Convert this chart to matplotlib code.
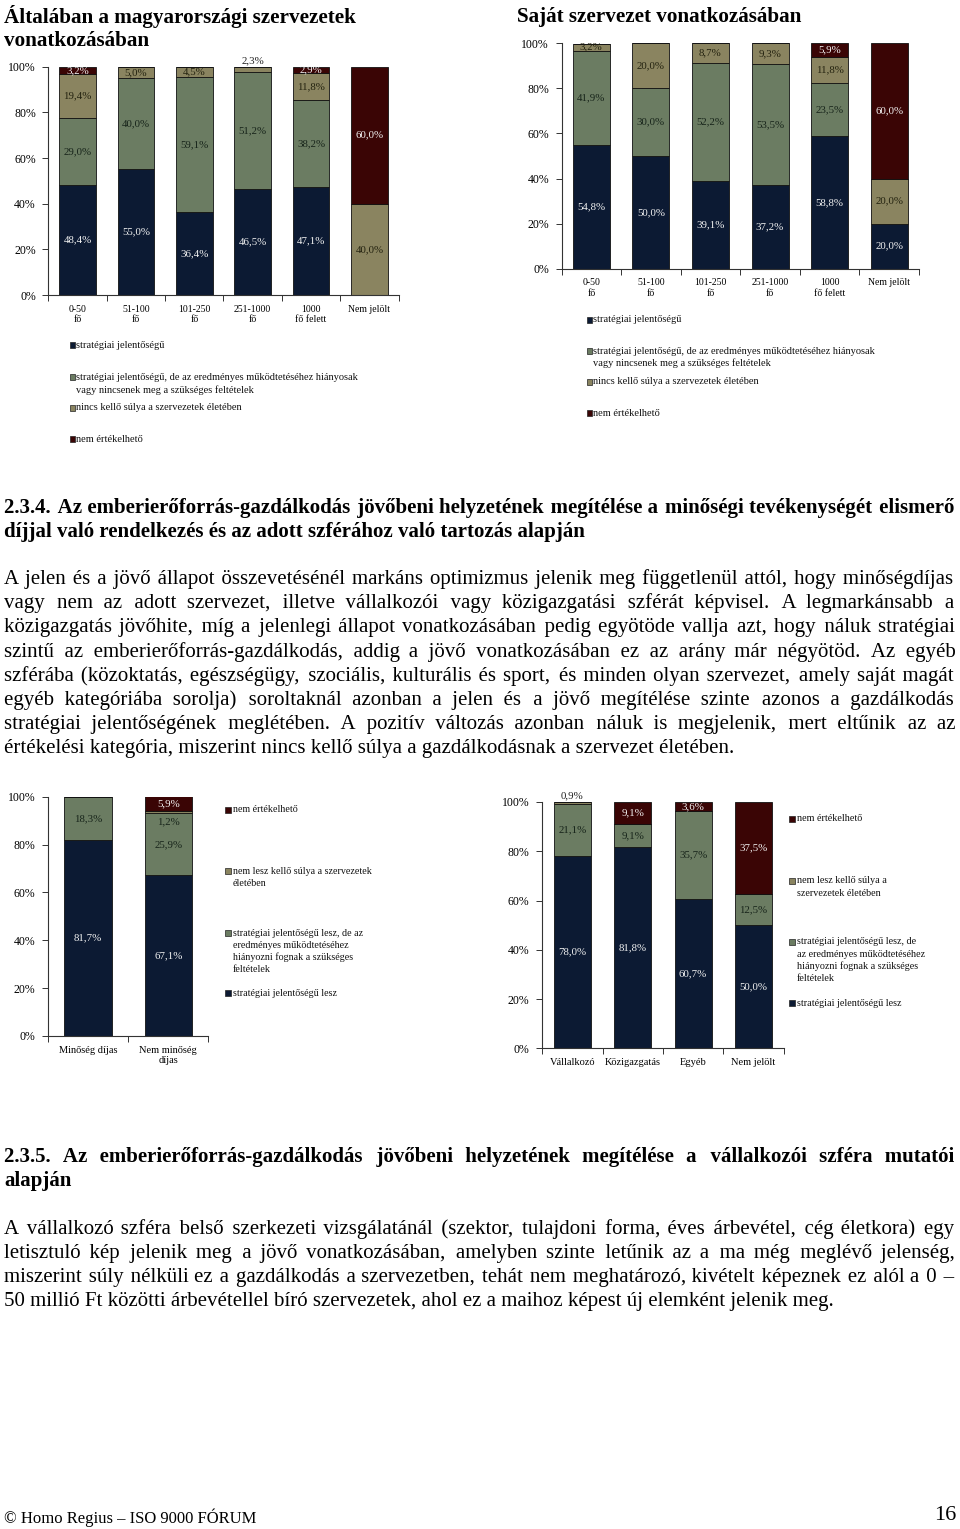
import numpy as np
import matplotlib
matplotlib.use("Agg")
import matplotlib.pyplot as plt
from matplotlib.patches import Rectangle

W, H = 960, 1529
plt.rcParams['font.family'] = ['Liberation Serif', 'DejaVu Serif']

# --- chart 1: Általában a magyarországi szervezetek vonatkozásában
cats_size = ['0-50\nfő', '51-100\nfő', '101-250\nfő', '251-1000\nfő', '1000\nfő felett', 'Nem jelölt']
c1_strat = [48.4, 55.0, 36.4, 46.5, 47.1, 0.0]
c1_hiany = [29.0, 40.0, 59.1, 51.2, 38.2, 0.0]
c1_nincs = [19.4, 5.0, 4.5, 2.3, 11.8, 40.0]
c1_nem = [3.2, 0.0, 0.0, 0.0, 2.9, 60.0]

# --- chart 2: Saját szervezet vonatkozásában
c2_strat = [54.8, 50.0, 39.1, 37.2, 58.8, 20.0]
c2_hiany = [41.9, 30.0, 52.2, 53.5, 23.5, 0.0]
c2_nincs = [3.2, 20.0, 8.7, 9.3, 11.8, 20.0]
c2_nem = [0.0, 0.0, 0.0, 0.0, 5.9, 60.0]

# --- chart 3: minőségdíj szerint
cats_dij = ['Minőség díjas', 'Nem minőség\ndíjas']
c3_lesz = [81.7, 67.1]
c3_hiany = [18.3, 25.9]
c3_nincs = [0.0, 1.2]
c3_nem = [0.0, 5.9]

# --- chart 4: szféra szerint
cats_szfera = ['Vállalkozó', 'Közigazgatás', 'Egyéb', 'Nem jelölt']
c4_lesz = [78.0, 81.8, 60.7, 50.0]
c4_hiany = [21.1, 9.1, 35.7, 12.5]
c4_nincs = [0.9, 0.0, 0.0, 0.0]
c4_nem = [0.0, 9.1, 3.6, 37.5]

leg_now = [["stratégiai jelentőségű"],
           ["stratégiai jelentőségű, de az eredményes működtetéséhez hiányosak",
            "vagy nincsenek meg a szükséges feltételek"],
           ["nincs kellő súlya a szervezetek életében"],
           ["nem értékelhető"]]
leg3 = [["nem értékelhető"],
        ["nem lesz kellő súlya a szervezetek", "életében"],
        ["stratégiai jelentőségű lesz, de az", "eredményes működtetéséhez",
         "hiányozni fognak a szükséges", "feltételek"],
        ["stratégiai jelentőségű lesz"]]
leg4 = [["nem értékelhető"],
        ["nem lesz kellő súlya a", "szervezetek életében"],
        ["stratégiai jelentőségű lesz, de", "az eredményes működtetéséhez",
         "hiányozni fognak a szükséges", "feltételek"],
        ["stratégiai jelentőségű lesz"]]

head1 = ["2.3.4. Az emberierőforrás-gazdálkodás jövőbeni helyzetének megítélése a minőségi tevékenységét elismerő",
         "díjjal való rendelkezés és az adott szférához való tartozás alapján"]
para1 = ["A jelen és a jövő állapot összevetésénél markáns optimizmus jelenik meg függetlenül attól, hogy minőségdíjas",
         "vagy nem az adott szervezet, illetve vállalkozói vagy közigazgatási szférát képvisel. A legmarkánsabb a",
         "közigazgatás jövőhite, míg a jelenlegi állapot vonatkozásában pedig egyötöde vallja azt, hogy náluk stratégiai",
         "szintű az emberierőforrás-gazdálkodás, addig a jövő vonatkozásában ez az arány már négyötöd. Az egyéb",
         "szférába (közoktatás, egészségügy, szociális, kulturális és sport, és minden olyan szervezet, amely saját magát",
         "egyéb kategóriába sorolja) soroltaknál azonban a jelen és a jövő megítélése szinte azonos a gazdálkodás",
         "stratégiai jelentőségének meglétében. A pozitív változás azonban náluk is megjelenik, mert eltűnik az az",
         "értékelési kategória, miszerint nincs kellő súlya a gazdálkodásnak a szervezet életében."]
head2 = ["2.3.5. Az emberierőforrás-gazdálkodás jövőbeni helyzetének megítélése a vállalkozói szféra mutatói",
         "alapján"]
para2 = ["A vállalkozó szféra belső szerkezeti vizsgálatánál (szektor, tulajdoni forma, éves árbevétel, cég életkora) egy",
         "letisztuló kép jelenik meg a jövő vonatkozásában, amelyben szinte letűnik az a ma még meglévő jelenség,",
         "miszerint súly nélküli ez a gazdálkodás a szervezetben, tehát nem meghatározó, kivételt képeznek ez alól a 0 –",
         "50 millió Ft közötti árbevétellel bíró szervezetek, ahol ez a maihoz képest új elemként jelenik meg."]

NAVY, GREEN, OLIVE, MAROON = '#0c1a33', '#6b7c62', '#8a8460', '#3a0505'
COLS = [NAVY, GREEN, OLIVE, MAROON]
TXT = ['#f2f2f2', '#17241a', '#23220f', '#f2f2f2']

fig = plt.figure(figsize=(W / 100, H / 100), dpi=100)
R = fig.canvas.get_renderer()


def px_axes(x0, x1, ytop, ybot):
    return fig.add_axes([x0 / W, 1 - ybot / H, (x1 - x0) / W, (ybot - ytop) / H])


def fmt(v):
    return f"{v:.1f}".replace('.', ',') + '%'


def stacked(ax, cats, series, width, tick_fs=8.5, cat_fs=7, lab_fs=7.8):
    n = len(cats)
    x = np.arange(n)
    bottom = np.zeros(n)
    for k, vals in enumerate(series):
        vals = np.asarray(vals, float)
        ax.bar(x, vals, width, bottom=bottom, color=COLS[k], edgecolor='#111111', linewidth=0.6, zorder=2)
        for i, v in enumerate(vals):
            if v <= 0:
                continue
            rest = sum(s[i] for s in series[k + 1:])
            if v < 2.5 and rest == 0:
                ax.text(x[i], bottom[i] + v + 0.8, fmt(v), ha='center', va='bottom', fontsize=lab_fs, color='#222222')
            elif v < 2.5:
                ax.text(x[i], bottom[i] - 1.5, fmt(v), ha='center', va='top', fontsize=lab_fs, color=TXT[k - 1])
            else:
                ax.text(x[i], bottom[i] + v / 2, fmt(v), ha='center', va='center', fontsize=lab_fs, color=TXT[k])
        bottom += vals
    ax.set_xlim(-0.5, n - 0.5)
    ax.set_ylim(0, 100)
    ax.set_yticks(range(0, 101, 20))
    ax.set_yticklabels([f'{t}%' for t in range(0, 101, 20)])
    ax.set_xticks(np.arange(n + 1) - 0.5)
    ax.set_xticklabels([''] * (n + 1))
    ax.set_xticks(x, minor=True)
    ax.set_xticklabels(cats, minor=True, fontsize=cat_fs)
    ax.tick_params(axis='x', which='minor', length=0, pad=7)
    ax.tick_params(axis='x', which='major', length=4, width=0.7, color='#333333')
    ax.tick_params(axis='y', length=4, width=0.7, color='#333333', labelsize=tick_fs, pad=5)
    for s in ['top', 'right']:
        ax.spines[s].set_visible(False)
    for s in ['left', 'bottom']:
        ax.spines[s].set_color('#333333')
        ax.spines[s].set_linewidth(0.8)


def legend(xm, xt, items, colors, ys, dy, fs, ms):
    for lines, c, y in zip(items, colors, ys):
        fig.add_artist(Rectangle((xm / W, 1 - (y + ms / 2) / H), ms / W, ms / H, transform=fig.transFigure,
                                 facecolor=c, edgecolor='#222222', linewidth=0.5))
        for j, ln in enumerate(lines):
            fig.text(xt / W, 1 - (y + j * dy) / H, ln, fontsize=fs, va='center', ha='left', color='#111111')


def text_w(s, fs, weight):
    t = fig.text(0, 0, s, fontsize=fs, weight=weight)
    w = t.get_window_extent(R).width
    t.remove()
    return w


def put_lines(lines, y0, dy, fs, weight='normal', n_just=None, x0=4, x1=954):
    # justified lines: one text per line, extra width filled with hair spaces
    if n_just is None:
        n_just = len(lines) - 1
    hair = '\u200a'
    hw = text_w('a' + hair * 10 + 'a', fs, weight) - text_w('aa', fs, weight)
    hw = hw / 10
    off = 0.3 * fs * 100 / 72
    for i, line in enumerate(lines):
        y = 1 - (y0 + i * dy + off) / H
        if i < n_just and hw > 0.2:
            words = line.split(' ')
            extra = (x1 - x0) - text_w(line, fs, weight)
            total = max(0, int(round(extra / hw)))
            ng = len(words) - 1
            out = words[0]
            done = 0
            for g in range(ng):
                k = int(round(total * (g + 1) / ng)) - done
                done += k
                out += ' ' + hair * k + words[g + 1]
            line = out
        fig.text(x0 / W, y, line, fontsize=fs, weight=weight, va='baseline', ha='left')


# titles
fig.text(4 / W, 1 - 17 / H, 'Általában a magyarországi szervezetek', fontsize=15.2, weight='bold', va='center')
fig.text(4 / W, 1 - 41 / H, 'vonatkozásában', fontsize=15.2, weight='bold', va='center')
fig.text(517 / W, 1 - 17 / H, 'Saját szervezet vonatkozásában', fontsize=15.2, weight='bold', va='center')

ax1 = px_axes(48.3, 398.7, 66.7, 295)
stacked(ax1, cats_size, [c1_strat, c1_hiany, c1_nincs, c1_nem], 0.63)
legend(70, 76, leg_now, COLS, [345, 377, 408, 439], 13, 7.5, 5)

ax2 = px_axes(561.5, 919, 43.3, 268.7)
stacked(ax2, cats_size, [c2_strat, c2_hiany, c2_nincs, c2_nem], 0.62)
legend(587, 593, leg_now, COLS, [320, 351, 382, 413], 12.5, 7.5, 5)

ax3 = px_axes(47.8, 208.4, 796.7, 1036)
stacked(ax3, cats_dij, [c3_lesz, c3_hiany, c3_nincs, c3_nem], 0.59, cat_fs=7.5)
legend(225, 233, leg3, [MAROON, OLIVE, GREEN, NAVY], [810, 871, 933, 993], 12.2, 7.2, 6)

ax4 = px_axes(542.1, 783.7, 802, 1048.3)
stacked(ax4, cats_szfera, [c4_lesz, c4_hiany, c4_nincs, c4_nem], 0.61, cat_fs=7.5)
legend(789, 797, leg4, [MAROON, OLIVE, GREEN, NAVY], [819, 881, 942, 1003], 12.2, 7.3, 6)

# body text
put_lines(head1, 507, 24, 15, weight='bold', n_just=1)
put_lines(para1, 578, 24.1, 15)
put_lines(head2, 1156, 24, 15, weight='bold', n_just=1)
put_lines(para2, 1228, 24, 15)

fig.text(4 / W, 1 - 1518 / H, '© Homo Regius – ISO 9000 FÓRUM', fontsize=12, va='center')
fig.text(956 / W, 1 - 1516 / H, '16', fontsize=16, va='center', ha='right')

fig.savefig('out.png', dpi=100, facecolor='white')
